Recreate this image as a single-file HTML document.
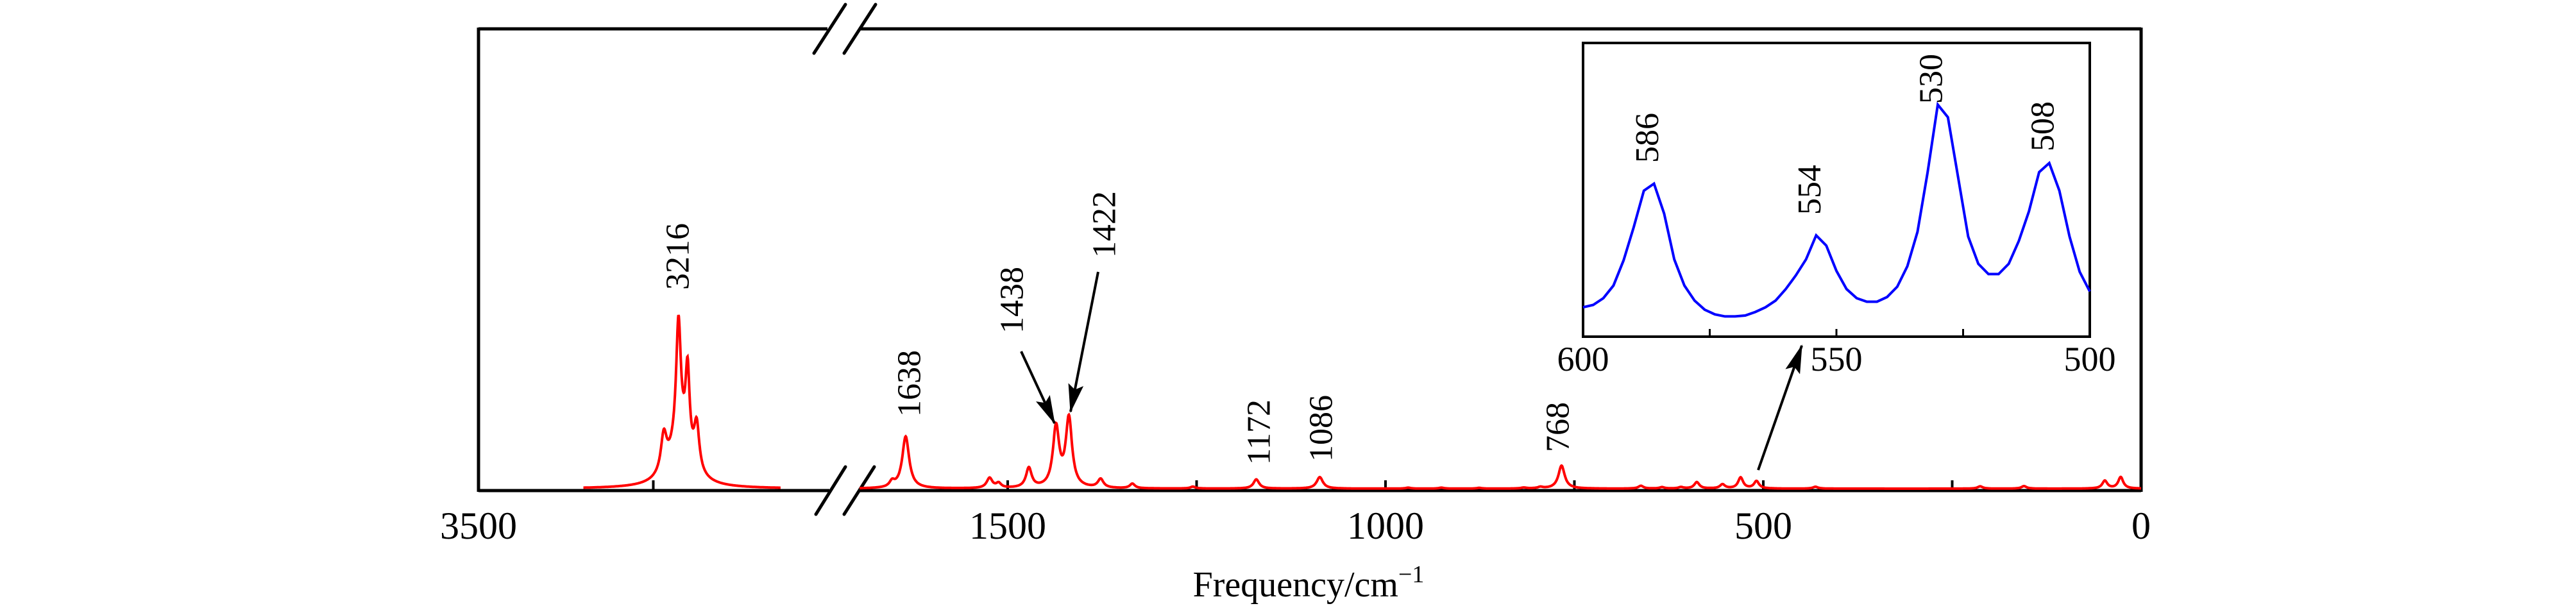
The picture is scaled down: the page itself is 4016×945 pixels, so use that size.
<!DOCTYPE html>
<html><head><meta charset="utf-8"><style>
html,body{margin:0;padding:0;background:#fff;}
svg{display:block;}
text{font-family:"Liberation Serif",serif;fill:#000;}
</style></head><body>
<svg id="chart" width="4016" height="945" viewBox="0 0 4016 945" xmlns="http://www.w3.org/2000/svg">
<defs><marker id="ah" viewBox="0 0 45 24" refX="43" refY="12" markerWidth="45" markerHeight="24" markerUnits="userSpaceOnUse" orient="auto"><path d="M0,0 L45,12 L0,24 L8,12 z" fill="#000"/></marker></defs>
<g id="frame">
<line x1="746" y1="45" x2="1290" y2="45" stroke="#000" stroke-width="5"/>
<line x1="1342" y1="45" x2="3338" y2="45" stroke="#000" stroke-width="5"/>
<line x1="746" y1="765" x2="1293" y2="765" stroke="#000" stroke-width="5"/>
<line x1="1340" y1="765" x2="3338" y2="765" stroke="#000" stroke-width="5"/>
<line x1="746" y1="43" x2="746" y2="767" stroke="#000" stroke-width="5"/>
<line x1="3338" y1="43" x2="3338" y2="767" stroke="#000" stroke-width="5"/>
</g>
<g stroke="#000" stroke-width="5" stroke-linecap="round">
<line x1="1269" y1="83" x2="1318" y2="7"/><line x1="1316" y1="83" x2="1365" y2="7"/></g>
<g stroke="#000" stroke-width="5" stroke-linecap="round">
<line x1="1272" y1="802" x2="1318" y2="728"/><line x1="1316" y1="802" x2="1363" y2="728"/></g>
<g id="ticks"></g>
<g id="spec"></g>
<g id="labels"></g>
<g stroke="#000" stroke-width="4" fill="none">
<line x1="1592" y1="548" x2="1644" y2="660" marker-end="url(#ah)"/>
<line x1="1712" y1="424" x2="1669" y2="642" marker-end="url(#ah)"/>
<line x1="2741" y1="733" x2="2809" y2="539" marker-end="url(#ah)"/>
</g>
<g id="inset">
<rect x="2468" y="67" width="790" height="458" fill="#fff" stroke="#000" stroke-width="4"/>
</g>
<text x="2040" y="930" font-size="56" text-anchor="middle">Frequency/cm<tspan font-size="38" dy="-22">−1</tspan></text>
</svg>
<script>
// Main spectrum peaks (wavenumber, relative intensity, half-width)
const leftPos = [3235, 3214, 3201, 3188, 3212];
const leftH   = [8, 26, 18, 10, 10];
const leftW   = [5, 4, 3.5, 4.5, 18];
const rightPos = [1653, 1635, 1524, 1512, 1472, 1436, 1419, 1377, 1335, 1255, 1171, 1087, 970, 926, 876, 817, 795, 767, 662, 634, 609, 588, 554, 530, 509, 431, 213, 155, 48, 27];
const rightH   = [1.2, 11.3, 2.2, 1.0, 4.3, 13.0, 15.0, 1.9, 1.0, 0.4, 2.0, 2.5, 0.2, 0.2, 0.15, 0.2, 0.3, 5.0, 0.6, 0.3, 0.3, 1.4, 0.9, 2.4, 1.6, 0.4, 0.5, 0.55, 1.7, 2.5];
const rightW   = [4, 5.5, 4.5, 4, 4.5, 5, 5, 4.5, 4, 4, 4.5, 5, 4, 4, 4, 4, 4, 5, 4, 4, 4, 4, 4, 4, 4, 4, 4, 4, 4, 4];
const xTicksRight = [1500, 1250, 1000, 750, 500, 250];
const xTickLabelsRight = [1500, 1000, 500, 0];
const xTicksLeft = [3250];
const xTickLabelsLeft = [3500];
// Inset data (600-500 cm-1)
const insetWn = [600,598,596,594,592,590,588,586,584,582,580,578,576,574,572,570,568,566,564,562,560,558,556,554,552,550,548,546,544,542,540,538,536,534,532,530,528,526,524,522,520,518,516,514,512,510,508,506,504,502,500];
const insetI = [10.0,10.8,13.1,17.4,26.0,37.3,49.7,52.1,41.9,26.3,17.4,12.3,9.2,7.6,6.9,6.9,7.2,8.4,10.0,12.3,16.2,20.9,26.3,34.5,31.0,22.4,16.2,13.1,11.9,11.9,13.5,17.0,24.0,35.7,56.0,79.0,74.7,54.4,34.1,24.8,21.3,21.3,24.8,32.6,42.7,56.0,59.1,49.7,34.1,22.1,15.4];
const insetTicks = [575, 550, 525];
const insetTickLabels = [600, 550, 500];
const peakLabels = ["3216","1638","1438","1422","1172","1086","768"];
const peakLabelX = [1057,1418,1578,1722,1963,2060,2429];
const peakLabelY = [400,598,468,350,674,668,666];
const insetLabels = ["586","554","530","508"];
const insetLabelWn = [586,554,530,508];
const insetLabelY = [215,296,123,197];

const NS="http://www.w3.org/2000/svg";
const xLeft = w => 746 + (3500 - w) * 1.09;
const xRight = w => 3338 - w * 1.178;
const yMain = v => 762 - v * 7.16;
const xIn = w => 2468 + (600 - w) * 7.9;
const yIn = v => 525 - v / 100 * 458;
function lor(w, P, H, W){let s=0;for(let i=0;i<P.length;i++){const d=w-P[i];s+=H[i]*W[i]*W[i]/(d*d+W[i]*W[i]);}return s;}
function mk(tag, attrs, parent){const e=document.createElementNS(NS,tag);for(const k in attrs)e.setAttribute(k,attrs[k]);parent.appendChild(e);return e;}

const spec=document.getElementById('spec');
let d="";
for(let w=3350; w>=3068; w-=0.5){d+=(d?"L":"M")+xLeft(w).toFixed(1)+","+yMain(lor(w,leftPos,leftH,leftW)).toFixed(1);}
const p1=mk('path',{d:d,fill:"none",stroke:"#f00","stroke-width":4},spec);


d="";
for(let w=1696; w>=0; w-=0.5){d+=(d?"L":"M")+xRight(w).toFixed(1)+","+yMain(lor(w,rightPos,rightH,rightW)).toFixed(1);}
const p2=mk('path',{d:d,fill:"none",stroke:"#f00","stroke-width":4},spec);



const ticks=document.getElementById('ticks');
xTicksRight.forEach(t=>{const l=mk('line',{x1:xRight(t),x2:xRight(t),y1:763,y2:749,stroke:"#000","stroke-width":4},ticks);

});
xTicksLeft.forEach(t=>{const l=mk('line',{x1:xLeft(t),x2:xLeft(t),y1:763,y2:749,stroke:"#000","stroke-width":4},ticks);

});
xTickLabelsRight.forEach(t=>{const e=mk('text',{x:xRight(t),y:840,"font-size":60,"text-anchor":"middle"},ticks);e.textContent=t;

});
xTickLabelsLeft.forEach(t=>{const e=mk('text',{x:xLeft(t),y:840,"font-size":60,"text-anchor":"middle"},ticks);e.textContent=t;

});

const labels=document.getElementById('labels');
peakLabels.forEach((s,i)=>{const e=mk('text',{x:0,y:0,"font-size":52,"text-anchor":"middle","dominant-baseline":"central",transform:`translate(${peakLabelX[i]},${peakLabelY[i]}) rotate(-90)`},labels);e.textContent=s;

});

const inset=document.getElementById('inset');
d="";
insetWn.forEach((w,i)=>{d+=(i?"L":"M")+xIn(w).toFixed(1)+","+yIn(insetI[i]).toFixed(1);});
const p3=mk('path',{d:d,fill:"none",stroke:"#00f","stroke-width":4},inset);


insetTicks.forEach(t=>{const l=mk('line',{x1:xIn(t),x2:xIn(t),y1:523,y2:513,stroke:"#000","stroke-width":3},inset);

});
insetTickLabels.forEach(t=>{const e=mk('text',{x:xIn(t),y:578,"font-size":54,"text-anchor":"middle"},inset);e.textContent=t;

});
insetLabels.forEach((s,i)=>{const e=mk('text',{x:0,y:0,"font-size":52,"text-anchor":"middle","dominant-baseline":"central",transform:`translate(${xIn(insetLabelWn[i])-10},${insetLabelY[i]}) rotate(-90)`},inset);e.textContent=s;

});
</script>
</body></html>
